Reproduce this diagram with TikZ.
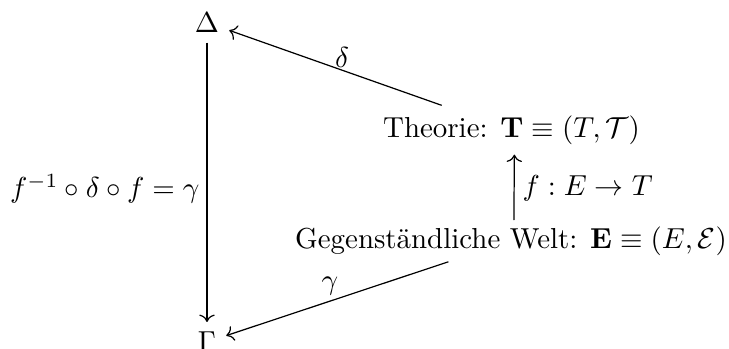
\documentclass[tikz,border=0pt]{standalone}
\usetikzlibrary{arrows.meta}
\begin{document}
\begin{tikzpicture}[x=0.346pt,y=-0.346pt,
  obj/.style={inner sep=3.33pt},
  lbl/.style={inner sep=0pt},
  arr/.style={-{Computer Modern Rightarrow}, line width=0.42pt}]
\useasboundingbox (0,0) rectangle (729,349);
\node[obj] (D) at (207,22.5) {$\Delta$};
\node[obj] (G) at (207,342) {$\Gamma$};
\node[obj] (T) at (511.5,130) {Theorie: $\mathbf{T}\equiv(T,\mathcal{T})$};
\node[obj,inner ysep=2pt] (W) at (511,241) {Gegenständliche Welt: $\mathbf{E}\equiv(E,\mathcal{E})$};
\draw[arr] (T) -- (D);
\draw[arr] (D) -- (G);
\draw[arr] ([xshift=1pt]W.north) -- ([xshift=1pt]T.south);
\draw[arr] (W) -- (G);
\node[lbl] (dl) at (342,57) {$\delta$};
\node[lbl] (gl) at (330,286) {$\gamma$};
\node[lbl,anchor=west] (fl) at (522,188) {$f:E\rightarrow T$};
\node[lbl,anchor=east] (cl) at (200,189) {$f^{-1}\circ\delta\circ f=\gamma$};
\end{tikzpicture}
\end{document}
